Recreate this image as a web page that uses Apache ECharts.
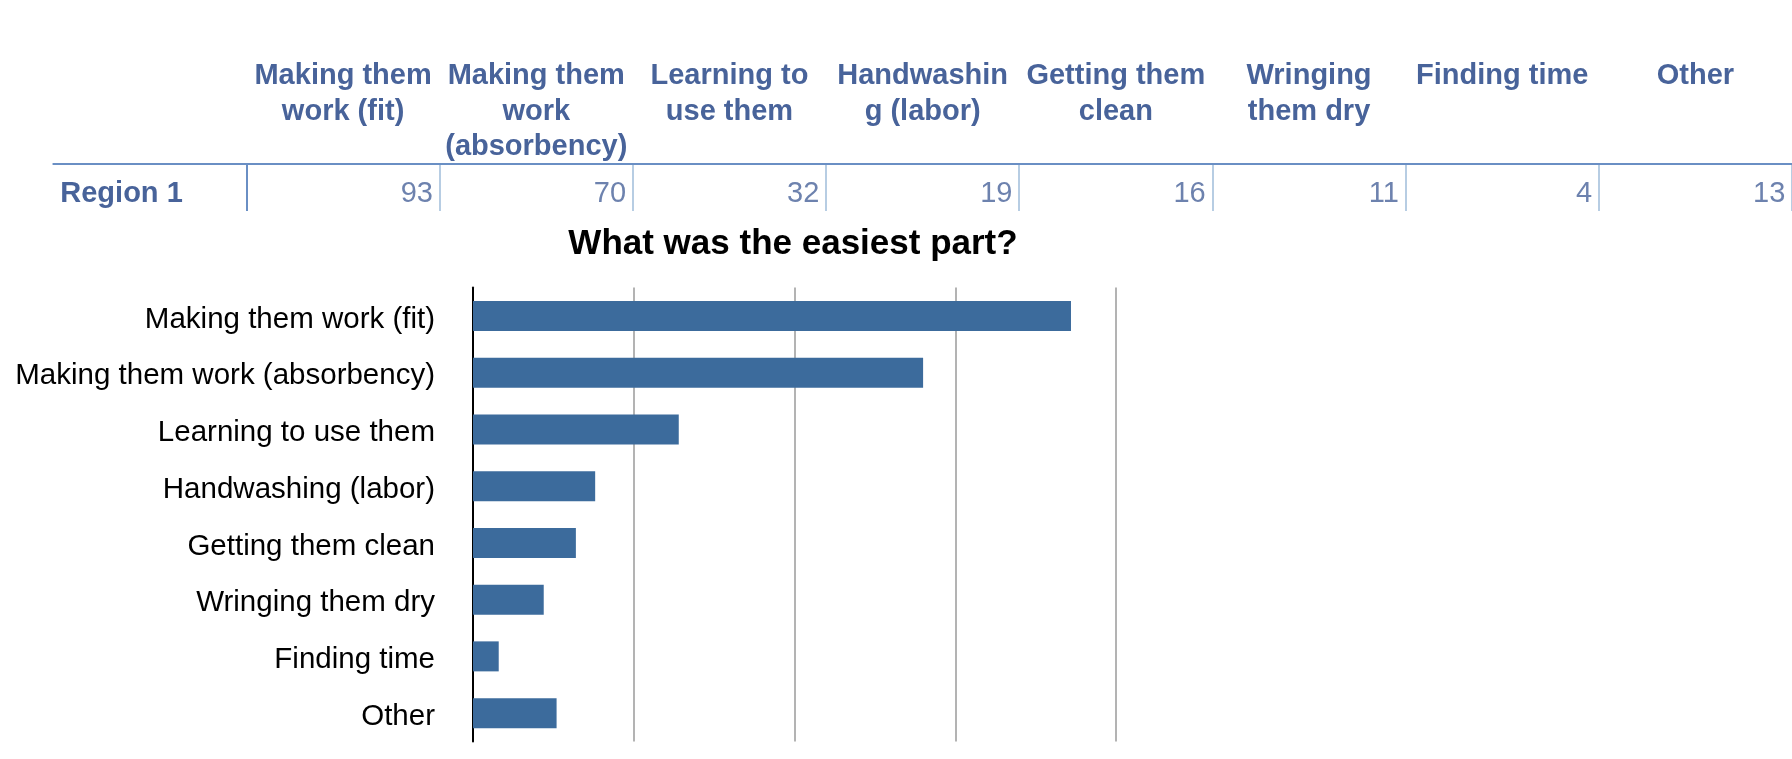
<!DOCTYPE html>
<html>
<head>
<meta charset="utf-8">
<script src="https://cdn.jsdelivr.net/npm/echarts@6/dist/echarts.min.js"></script>
<style>
  html, body { margin: 0; padding: 0; background: #ffffff; }
  #chart { width: 1792px; height: 759px; }
</style>
</head>
<body>
<div id="chart"></div>
<script>
// ---- data ----
const categories = [
  'Making them work (fit)',
  'Making them work (absorbency)',
  'Learning to use them',
  'Handwashing (labor)',
  'Getting them clean',
  'Wringing them dry',
  'Finding time',
  'Other'
];
const headerLabels = [
  'Making them\nwork (fit)',
  'Making them\nwork\n(absorbency)',
  'Learning to\nuse them',
  'Handwashin\ng (labor)',
  'Getting them\nclean',
  'Wringing\nthem dry',
  'Finding time',
  'Other'
];
const cornerHeader = '';
const rowLabel = 'Region 1';
const values = [93, 70, 32, 19, 16, 11, 4, 13];
const chartTitle = 'What was the easiest part?';
const axisMin = 0, axisMax = 100, axisInterval = 25;

// ---- layout/style ----
const FONT = '"Liberation Sans", Arial, Helvetica, sans-serif';
const tableBlue = '#48639a';
const colW = 193.7;
const tableLeft = 53.3;
const nCols = categories.length + 1;

const tableCats = [cornerHeader].concat(categories);
const headerMap = {};
categories.forEach((c, i) => { headerMap[c] = headerLabels[i]; });

const splitColors = ['rgba(0,0,0,0)', '#6a8fc4'];
for (let i = 0; i < nCols; i++) splitColors.push('#b7cde3');

const chart = echarts.init(document.getElementById('chart'), null, { renderer: 'canvas' });

chart.setOption({
  backgroundColor: '#ffffff',
  animation: false,
  title: {
    text: chartTitle,
    left: 788,
    top: 221.5,
    textAlign: 'center',
    textStyle: { fontFamily: FONT, fontSize: 35, fontWeight: 'bold', color: '#000000' }
  },
  grid: [
    { left: tableLeft, top: 164, width: colW * nCols, height: 47, containLabel: false },
    { left: 473, top: 287.5, width: 643, height: 454, containLabel: false }
  ],
  xAxis: [
    {
      gridIndex: 0,
      type: 'category',
      position: 'top',
      data: tableCats,
      boundaryGap: true,
      axisLine: { show: true, lineStyle: { color: '#6a8fc4', width: 2 } },
      axisTick: { show: false },
      splitLine: {
        show: true,
        interval: 0,
        lineStyle: { color: splitColors, width: 2 }
      },
      axisLabel: {
        show: true,
        interval: 0,
        margin: 105.5,
        verticalAlign: 'top',
        align: 'center',
        fontFamily: FONT,
        fontSize: 29,
        fontWeight: 'bold',
        lineHeight: 35.5,
        color: tableBlue,
        formatter: v => headerMap[v] || ''
      }
    },
    {
      gridIndex: 1,
      type: 'value',
      min: axisMin,
      max: axisMax,
      interval: axisInterval,
      axisLine: { show: false },
      axisTick: { show: false },
      axisLabel: { show: false },
      splitLine: { show: true, lineStyle: { color: '#b3b3b3', width: 2 } }
    }
  ],
  yAxis: [
    {
      gridIndex: 0,
      type: 'category',
      data: [rowLabel],
      axisLine: { show: false },
      axisTick: { show: false },
      splitLine: { show: false },
      axisLabel: {
        show: true,
        inside: true,
        align: 'left',
        verticalAlign: 'top',
        lineHeight: 12.8,
        margin: 7,
        fontFamily: FONT,
        fontSize: 29,
        fontWeight: 'bold',
        color: tableBlue
      }
    },
    {
      gridIndex: 1,
      type: 'category',
      inverse: true,
      data: categories,
      axisLine: { show: true, lineStyle: { color: '#000000', width: 2 } },
      axisTick: { show: false },
      axisLabel: {
        margin: 38,
        verticalAlign: 'top',
        lineHeight: 7.2,
        fontFamily: FONT,
        fontSize: 29.5,
        color: '#000000'
      }
    }
  ],
  series: [
    {
      type: 'scatter',
      xAxisIndex: 0,
      yAxisIndex: 0,
      symbolSize: 0,
      silent: true,
      data: values.map((v, i) => [categories[i], rowLabel, v]),
      label: {
        show: true,
        position: 'inside',
        align: 'right',
        verticalAlign: 'middle',
        offset: [colW / 2 - 7, 6],
        fontFamily: FONT,
        fontSize: 29,
        color: tableBlue,
        formatter: p => String(p.value[2])
      }
    },
    {
      type: 'bar',
      xAxisIndex: 1,
      yAxisIndex: 1,
      barWidth: 30,
      itemStyle: { color: '#3c6b9c' },
      data: values
    }
  ]
});
</script>
</body>
</html>
